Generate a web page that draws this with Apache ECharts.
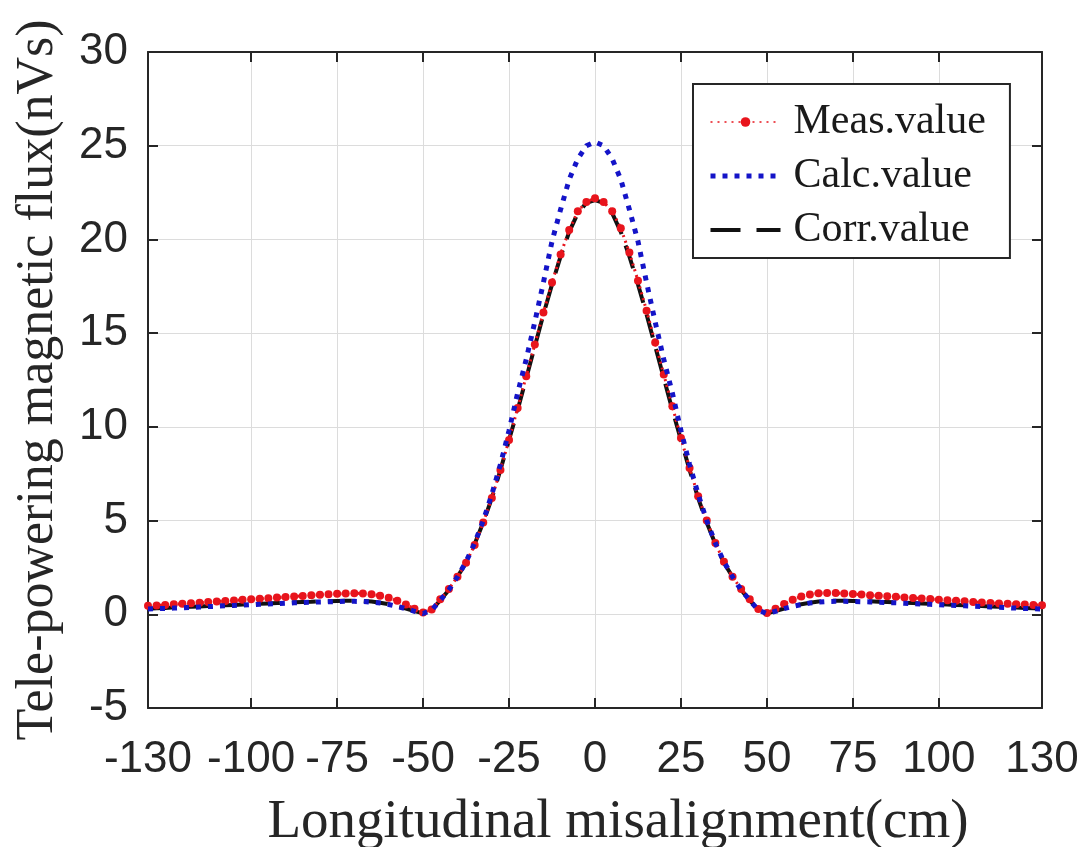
<!DOCTYPE html>
<html>
<head>
<meta charset="utf-8">
<script src="https://cdn.jsdelivr.net/npm/echarts@6/dist/echarts.min.js"></script>
<style>
html,body{margin:0;padding:0;background:#fff;}
#chart{width:1083px;height:847px;}
</style>
</head>
<body>
<div id="chart"></div>
<script>
// x positions (cm)
const xPos = [-130,-127.5,-125,-122.5,-120,-117.5,-115,-112.5,-110,-107.5,-105,-102.5,-100,-97.5,-95,-92.5,-90,-87.5,-85,-82.5,-80,-77.5,-75,-72.5,-70,-67.5,-65,-62.5,-60,-57.5,-55,-52.5,-50,-47.5,-45,-42.5,-40,-37.5,-35,-32.5,-30,-27.5,-25,-22.5,-20,-17.5,-15,-12.5,-10,-7.5,-5,-2.5,0,2.5,5,7.5,10,12.5,15,17.5,20,22.5,25,27.5,30,32.5,35,37.5,40,42.5,45,47.5,50,52.5,55,57.5,60,62.5,65,67.5,70,72.5,75,77.5,80,82.5,85,87.5,90,92.5,95,97.5,100,102.5,105,107.5,110,112.5,115,117.5,120,122.5,125,127.5,130];

const measValues = [0.45,0.47,0.5,0.53,0.56,0.59,0.62,0.65,0.68,0.71,0.74,0.77,0.8,0.83,0.86,0.89,0.92,0.95,0.98,1.01,1.04,1.07,1.09,1.11,1.12,1.11,1.07,0.99,0.88,0.72,0.52,0.3,0.1,0.25,0.8,1.35,2.0,2.75,3.7,4.9,6.2,7.7,9.3,11.0,12.7,14.4,16.1,17.7,19.2,20.5,21.5,22.0,
  22.2,
  22.0,21.5,20.6,19.3,17.8,16.2,14.5,12.8,11.1,9.4,7.8,6.3,5.0,3.8,2.8,2.0,1.35,0.8,0.28,0.07,0.3,0.55,0.78,0.95,1.06,1.12,1.14,1.13,1.11,1.08,1.05,1.02,0.99,0.96,0.93,0.9,0.87,0.84,0.81,0.78,0.75,0.72,0.69,0.66,0.63,0.6,0.58,0.56,0.54,0.52,0.5,0.48];

const calcValues = [0.28,0.3,0.31,0.33,0.35,0.37,0.39,0.41,0.43,0.45,0.47,0.49,0.51,0.53,0.55,0.57,0.59,0.61,0.63,0.64,0.66,0.67,0.68,0.69,0.69,0.68,0.65,0.6,0.52,0.42,0.3,0.16,0.04,0.22,0.75,1.3,2.0,2.8,3.8,5.0,6.4,8.0,9.8,11.8,13.6,15.6,17.7,19.9,21.6,23.2,24.3,25.0,
  25.2,
  25.0,24.3,23.2,21.6,19.9,17.7,15.6,13.6,11.8,9.8,8.0,6.4,5.0,3.8,2.8,2.0,1.3,0.75,0.22,0.04,0.16,0.3,0.42,0.52,0.6,0.65,0.68,0.69,0.69,0.68,0.67,0.66,0.64,0.63,0.61,0.59,0.57,0.55,0.53,0.51,0.49,0.47,0.45,0.43,0.41,0.39,0.37,0.35,0.33,0.31,0.3,0.28];

const corrValues = [0.3,0.32,0.34,0.36,0.38,0.4,0.42,0.44,0.46,0.48,0.5,0.52,0.54,0.56,0.58,0.6,0.62,0.64,0.66,0.67,0.69,0.7,0.71,0.72,0.72,0.71,0.68,0.62,0.54,0.43,0.31,0.17,0.05,0.22,0.75,1.3,2.0,2.75,3.75,4.9,6.2,7.7,9.3,10.9,12.6,14.3,16.0,17.6,19.1,20.4,21.4,21.95,
  22.1,
  21.95,21.4,20.4,19.1,17.6,16.0,14.3,12.6,10.9,9.3,7.7,6.2,4.9,3.75,2.75,2.0,1.3,0.75,0.22,0.05,0.17,0.31,0.43,0.54,0.62,0.68,0.71,0.72,0.72,0.71,0.7,0.69,0.67,0.66,0.64,0.62,0.6,0.58,0.56,0.54,0.52,0.5,0.48,0.46,0.44,0.42,0.4,0.38,0.36,0.34,0.32,0.3];

const xTicks = [-130,-100,-75,-50,-25,0,25,50,75,100,130];
const seriesNames = ['Meas.value','Calc.value','Corr.value'];
const xTitle = 'Longitudinal misalignment(cm)';
const yTitle = 'Tele-powering magnetic flux(nVs)';

function pairs(vals){ return xPos.map((x,i)=>[x, vals[i]]); }

const axisColor = '#262626';
const gridColor = '#dcdcdc';
const red = '#e8141c', blue = '#1414c8', black = '#111111';
const chart = echarts.init(document.getElementById('chart'), null, {renderer:'canvas'});
chart.setOption({
  animation: false,
  backgroundColor: '#ffffff',
  grid: {left:148, right:41, top:52, bottom:139, outerBoundsMode:'none', containLabel:false},
  legend: {
    orient:'vertical', left:693, top:84,
    backgroundColor:'#ffffff', borderColor:axisColor, borderWidth:2, borderRadius:0,
    padding:[17,24,7,15], itemWidth:70, itemHeight:12, itemGap:12,
    textStyle:{fontFamily:'Liberation Serif', fontSize:42, color:'#1a1a1a', lineHeight:40, padding:[0,0,0,8]},
    data: [
      {name:seriesNames[0], lineStyle:{width:1.5, type:[2,5], color:red}},
      {name:seriesNames[1], itemStyle:{opacity:0}, lineStyle:{width:5, type:[5,7], color:blue}},
      {name:seriesNames[2], itemStyle:{opacity:0}, lineStyle:{width:4, type:[30,16], color:black}}
    ]
  },
  xAxis: [{
    type:'value', min:-130, max:130, position:'bottom',
    axisLine:{show:true, onZero:false, lineStyle:{color:axisColor, width:2}},
    axisTick:{show:true, inside:true, length:10, customValues:xTicks, lineStyle:{color:axisColor, width:2}},
    axisLabel:{customValues:xTicks, fontFamily:'Liberation Sans', fontSize:44, color:'#262626', margin:30},
    splitLine:{show:true, lineStyle:{color:gridColor, width:1}},
    name:xTitle, nameLocation:'middle', nameGap:87,
    nameTextStyle:{fontFamily:'Liberation Serif', fontSize:55, color:'#262626', padding:[0,0,0,46]}
  },{
    type:'value', min:-130, max:130, position:'top',
    axisLine:{show:true, onZero:false, lineStyle:{color:axisColor, width:2}},
    axisTick:{show:true, inside:true, length:10, customValues:xTicks, lineStyle:{color:axisColor, width:2}},
    axisLabel:{show:false}, splitLine:{show:false}
  }],
  yAxis: [{
    type:'value', min:-5, max:30, interval:5, position:'left',
    axisLine:{show:true, onZero:false, lineStyle:{color:axisColor, width:2}},
    axisTick:{show:true, inside:true, length:10, lineStyle:{color:axisColor, width:2}},
    axisLabel:{fontFamily:'Liberation Sans', fontSize:44, color:'#262626', margin:20},
    splitLine:{show:true, lineStyle:{color:gridColor, width:1}},
    name:yTitle, nameLocation:'middle', nameGap:84,
    nameTextStyle:{fontFamily:'Liberation Serif', fontSize:52, color:'#262626'}
  },{
    type:'value', min:-5, max:30, interval:5, position:'right',
    axisLine:{show:true, onZero:false, lineStyle:{color:axisColor, width:2}},
    axisTick:{show:true, inside:true, length:10, lineStyle:{color:axisColor, width:2}},
    axisLabel:{show:false}, splitLine:{show:false}
  }],
  series: [
    {
      name:seriesNames[0], type:'line', data:pairs(measValues), z:3,
      symbol:'circle', symbolSize:8, showSymbol:true,
      itemStyle:{color:red},
      lineStyle:{color:red, width:3, type:[2,4]}
    },
    {
      name:seriesNames[1], type:'line', data:pairs(calcValues), z:4,
      symbol:'none',
      itemStyle:{color:blue},
      lineStyle:{color:blue, width:5, type:[5,7]}
    },
    {
      name:seriesNames[2], type:'line', data:pairs(corrValues), z:2,
      symbol:'none',
      itemStyle:{color:black},
      lineStyle:{color:black, width:4, type:[24,12]}
    }
  ]
});
</script>
</body>
</html>
